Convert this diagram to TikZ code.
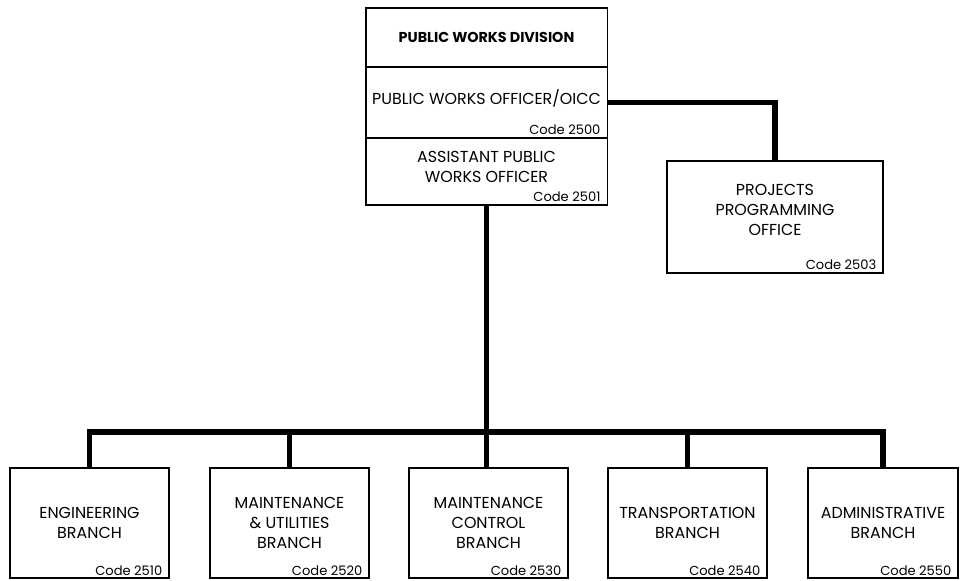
\documentclass[tikz,border=0pt]{standalone}
\usepackage{fontspec}
\setmainfont{Poppins}
\usepackage{tikz}

\begin{document}
\begin{tikzpicture}[x=0.025cm, y=-0.025cm,
	box/.style={draw, line width=0.9pt, align=center, inner sep=0pt,
		font=\fontsize{11.3}{14.2}\selectfont},
	code/.style={anchor=south east, inner sep=0pt, font=\fontsize{9.3}{10}\selectfont},
	bar/.style={line width=3.6pt}]
	
	\useasboundingbox (0,0) rectangle (961,580);
	
	% top block
	\node[box, minimum width=6.03cm, minimum height=1.475cm, font=\bfseries\fontsize{10.2}{12}\selectfont] (pwd) at (486.5,37.5) {PUBLIC WORKS DIVISION};
	\node[box, minimum width=6.03cm, minimum height=1.775cm] (pwo) at (486.5,102.5) {PUBLIC WORKS OFFICER/OICC\\[-6pt]};
	\node[box, minimum width=6.03cm, minimum height=1.675cm] (apwo) at (486.5,171.5) {ASSISTANT PUBLIC\\WORKS OFFICER\\[-7.5pt]};
	\node[code] (c2500) at ([xshift=-5pt,yshift=3pt]pwo.south east) {Code 2500};
	\node[code] (c2501) at ([xshift=-5pt,yshift=3pt]apwo.south east) {Code 2501};
	
	\node[box, minimum width=5.4cm, minimum height=2.8cm] (ppo) at (775,217) {PROJECTS\\PROGRAMMING\\OFFICE\\[-4pt]};
	\node[code] (c2503) at ([xshift=-5pt,yshift=3pt]ppo.south east) {Code 2503};
	
	% branches
	\node[box, minimum width=3.975cm, minimum height=2.75cm] (eng) at (89.5,523) {ENGINEERING\\BRANCH};
	\node[box, minimum width=3.975cm, minimum height=2.75cm] (util) at (289.5,523) {MAINTENANCE\\\& UTILITIES\\BRANCH};
	\node[box, minimum width=3.975cm, minimum height=2.75cm] (ctrl) at (488.5,523) {MAINTENANCE\\CONTROL\\BRANCH};
	\node[box, minimum width=3.975cm, minimum height=2.75cm] (trans) at (687.5,523) {TRANSPORTATION\\BRANCH};
	\node[box, minimum width=3.75cm, minimum height=2.75cm] (adm) at (883,523) {ADMINISTRATIVE\\BRANCH};
	\node[code] (c2510) at ([xshift=-5pt,yshift=2pt]eng.south east) {Code 2510};
	\node[code] (c2520) at ([xshift=-5pt,yshift=2pt]util.south east) {Code 2520};
	\node[code] (c2530) at ([xshift=-5pt,yshift=2pt]ctrl.south east) {Code 2530};
	\node[code] (c2540) at ([xshift=-5pt,yshift=2pt]trans.south east) {Code 2540};
	\node[code] (c2550) at ([xshift=-5pt,yshift=2pt]adm.south east) {Code 2550};
	
	\coordinate (bus) at (0,432);
	
	\draw[bar] (pwo.east) -| (ppo.north);
	\draw[bar] (apwo.south) -- (apwo.south |- ctrl.north);
	\draw[bar] (eng.north) -- (eng.north |- bus) -- (adm.north |- bus) -- (adm.north);
	\draw[bar] (util.north) -- (util.north |- bus);
	\draw[bar] (trans.north) -- (trans.north |- bus);
\end{tikzpicture}
\end{document}
